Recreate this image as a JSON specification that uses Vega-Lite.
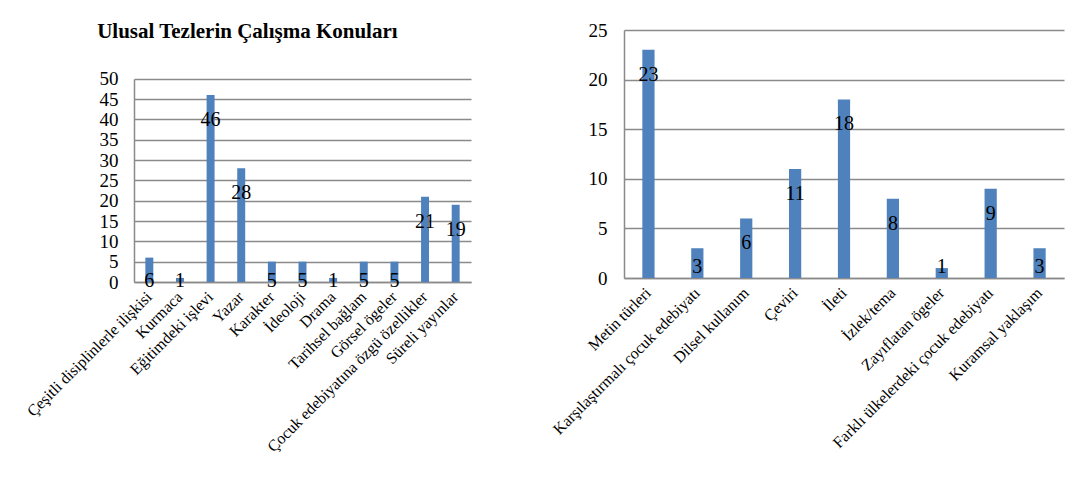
{
  "$schema": "https://vega.github.io/schema/vega-lite/v6.json",
  "padding": {"left": 23, "top": 21, "right": 10, "bottom": 5},
  "background": "white",
  "spacing": 78,
  "config": {
    "font": "Liberation Serif",
    "view": {"stroke": null},
    "axis": {
      "labelFont": "Liberation Serif",
      "labelColor": "black",
      "labelOverlap": false,
      "labelLimit": 0,
      "domainColor": "#8a8a8a",
      "domainWidth": 1.5,
      "gridColor": "#8a8a8a",
      "gridWidth": 1.5,
      "ticks": false,
      "title": null
    },
    "axisX": {"labelAngle": -45, "labelFontSize": 16, "labelPadding": 12, "labelAlign": "right", "labelBaseline": "middle"},
    "axisY": {"labelFontSize": 19, "labelPadding": 16}
  },
  "hconcat": [
    {
      "width": 337,
      "height": 252,
      "title": {"text": "Ulusal Tezlerin Çalışma Konuları", "fontSize": 21, "fontWeight": "bold", "font": "Liberation Serif", "color": "black", "offset": -12, "frame": "bounds", "anchor": "middle"},
      "data": {"values": [
        {"konu": "Çeşitli disiplinlerle ilişkisi", "n": 6},
        {"konu": "Kurmaca", "n": 1},
        {"konu": "Eğitimdeki işlevi", "n": 46},
        {"konu": "Yazar", "n": 28},
        {"konu": "Karakter", "n": 5},
        {"konu": "İdeoloji", "n": 5},
        {"konu": "Drama", "n": 1},
        {"konu": "Tarihsel bağlam", "n": 5},
        {"konu": "Görsel ögeler", "n": 5},
        {"konu": "Çocuk edebiyatına özgü özellikler", "n": 21},
        {"konu": "Süreli yayınlar", "n": 19}
      ]},
      "encoding": {
        "x": {"field": "konu", "type": "nominal", "sort": null, "scale": {"paddingInner": 0.74, "paddingOuter": 0.37}}
      },
      "layer": [
        {
          "mark": {"type": "bar", "color": "#4F81BD"},
          "encoding": {
            "y": {"field": "n", "type": "quantitative", "scale": {"domain": [0, 62], "nice": false}, "axis": {"values": [0, 5, 10, 15, 20, 25, 30, 35, 40, 45, 50], "labelOverlap": false, "domainDash": [203, 400]}}
          }
        },
        {
          "transform": [{"calculate": "max(datum.n, 6.5)", "as": "pos"}],
          "mark": {"type": "text", "font": "Liberation Serif", "fontSize": 20, "color": "black", "baseline": "middle", "dy": 25},
          "encoding": {
            "y": {"field": "pos", "type": "quantitative", "axis": {"values": [0, 5, 10, 15, 20, 25, 30, 35, 40, 45, 50], "labelOverlap": false, "domainDash": [203, 400]}},
            "text": {"field": "n", "type": "quantitative"}
          }
        }
      ]
    },
    {
      "width": 440,
      "height": 248,
      "data": {"values": [
        {"konu": "Metin türleri", "n": 23},
        {"konu": "Karşılaştırmalı çocuk edebiyatı", "n": 3},
        {"konu": "Dilsel kullanım", "n": 6},
        {"konu": "Çeviri", "n": 11},
        {"konu": "İleti", "n": 18},
        {"konu": "İzlek/tema", "n": 8},
        {"konu": "Zayıflatan ögeler", "n": 1},
        {"konu": "Farklı ülkelerdeki çocuk edebiyatı", "n": 9},
        {"konu": "Kuramsal yaklaşım", "n": 3}
      ]},
      "encoding": {
        "x": {"field": "konu", "type": "nominal", "sort": null, "scale": {"paddingInner": 0.75, "paddingOuter": 0.375}}
      },
      "layer": [
        {
          "mark": {"type": "bar", "color": "#4F81BD"},
          "encoding": {
            "y": {"field": "n", "type": "quantitative", "scale": {"domain": [0, 25], "nice": false}, "axis": {"values": [0, 5, 10, 15, 20, 25], "labelPadding": 17, "labelOverlap": false}}
          }
        },
        {
          "transform": [{"calculate": "max(datum.n, 3.6)", "as": "pos"}],
          "mark": {"type": "text", "font": "Liberation Serif", "fontSize": 20, "color": "black", "baseline": "middle", "dy": 25},
          "encoding": {
            "y": {"field": "pos", "type": "quantitative", "axis": {"values": [0, 5, 10, 15, 20, 25], "labelPadding": 17, "labelOverlap": false}},
            "text": {"field": "n", "type": "quantitative"}
          }
        }
      ]
    }
  ]
}
